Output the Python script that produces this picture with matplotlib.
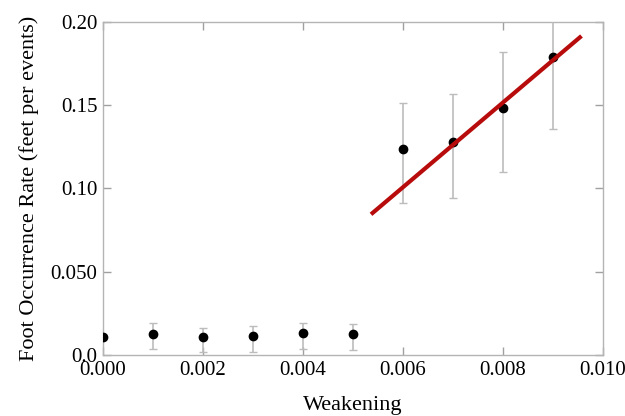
import numpy as np
import matplotlib
matplotlib.use("Agg")
import matplotlib.pyplot as plt

plt.rcParams['font.family'] = ['Liberation Serif', 'DejaVu Serif']

# data
weakening = [0.000, 0.001, 0.002, 0.003, 0.004, 0.005, 0.006, 0.007, 0.008, 0.009]
rate = [0.0108, 0.0124, 0.0108, 0.0112, 0.0134, 0.0124, 0.1239, 0.1277, 0.1485, 0.179]
err_low = [0.0, 0.009, 0.0088, 0.0092, 0.0096, 0.0094, 0.0324, 0.0334, 0.0388, 0.0434]
err_high = [0.0, 0.0066, 0.0056, 0.006, 0.006, 0.0062, 0.0276, 0.0289, 0.0337, 0.0434]

fit_x = [0.00536, 0.00957]
fit_y = [0.0845, 0.1916]

xticks = [0.000, 0.002, 0.004, 0.006, 0.008, 0.010]
yticks = [0.0, 0.05, 0.10, 0.15, 0.20]
ytick_labels = ['0.0', '0.050', '0.10', '0.15', '0.20']

fig = plt.figure(figsize=(6.25, 4.16), dpi=100)
ax = fig.add_axes([103/625, 1 - 355/416, 500/625, 333/416])

ax.errorbar(weakening, rate, yerr=[err_low, err_high], fmt='o', color='black',
            markersize=6, ecolor='#bcbcbc', elinewidth=1.2, capsize=3,
            capthick=1, zorder=3)
ax.plot(fit_x, fit_y, color='#b80c0c', lw=3, solid_capstyle='butt', zorder=4)

ax.set_xlim(0, 0.010)
ax.set_ylim(0, 0.20)
ax.set_xticks(xticks)
ax.set_xticklabels(['%.3f' % v for v in xticks])
ax.set_yticks(yticks)
ax.set_yticklabels(ytick_labels)

for s in ax.spines.values():
    s.set_color('#b4b4b4')
    s.set_linewidth(1)
ax.tick_params(direction='in', length=6, width=1, color='#a0a0a0',
               top=True, right=True, labelsize=15, pad=4)

ax.set_xlabel('Weakening', fontsize=16, labelpad=12)
ax.set_ylabel('Foot Occurrence Rate (feet per events)', fontsize=16, labelpad=8)

fig.savefig('out.png', dpi=100)
